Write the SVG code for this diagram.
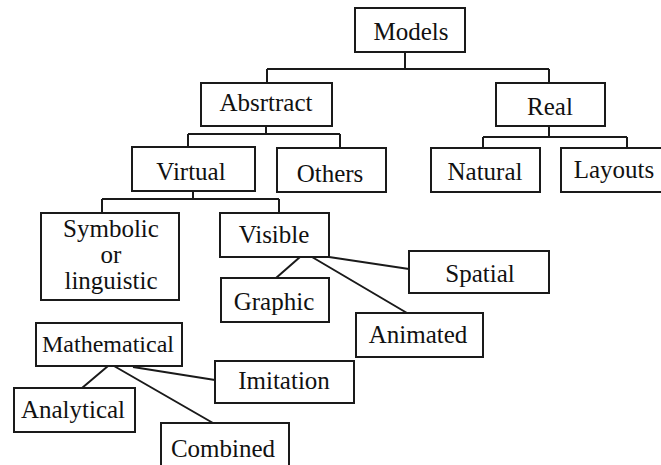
<svg xmlns="http://www.w3.org/2000/svg" width="661" height="465" viewBox="0 0 661 465">
<style>
.box{fill:#fff;stroke:#1a1a1a;stroke-width:2}
.t{font-family:'Liberation Serif','DejaVu Serif',serif;font-size:25px;fill:#111;text-anchor:middle}
.c{stroke:#1a1a1a;stroke-width:2;fill:none}
</style>
<rect width="661" height="465" fill="#fff"/>
<g id="connectors" class="c">
<path d="M405,52V69M267,69H549M267,69V83M549,69V83"/>
<path d="M266,126V134M188,134H340M188,134V147M340,134V148"/>
<path d="M549,126V137M483,137H627M483,137V148M627,137V148"/>
<path d="M193,191V199M102,199H279M102,199V213M279,199V213"/>
<path d="M300,257L276,278M312,257L407,313M329,257L409,269"/>
<path d="M108,366L82,388M114,366L213,423M133,367L215,380"/>
</g>
<g id="models"><rect class="box" x="355" y="8" width="110" height="44"/><text class="t" x="411" y="40">Models</text></g>
<g id="abstract"><rect class="box" x="201" y="83" width="131" height="43"/><text class="t" x="266" y="111">Absrtract</text></g>
<g id="real"><rect class="box" x="496" y="83" width="109" height="43"/><text class="t" x="550" y="115">Real</text></g>
<g id="virtual"><rect class="box" x="132" y="147" width="123" height="44"/><text class="t" x="191" y="180">Virtual</text></g>
<g id="others"><rect class="box" x="277" y="148" width="109" height="44"/><text class="t" x="330" y="182">Others</text></g>
<g id="natural"><rect class="box" x="431" y="148" width="109" height="44"/><text class="t" x="485" y="180">Natural</text></g>
<g id="layouts"><rect class="box" x="561" y="148" width="110" height="44"/><text class="t" x="614" y="178">Layouts</text></g>
<g id="symbolic"><rect class="box" x="41" y="213" width="138" height="87"/><text class="t" x="111" y="237">Symbolic</text><text class="t" x="111" y="263">or</text><text class="t" x="111" y="289">linguistic</text></g>
<g id="visible"><rect class="box" x="220" y="213" width="109" height="44"/><text class="t" x="274" y="243">Visible</text></g>
<g id="graphic"><rect class="box" x="221" y="278" width="108" height="44"/><text class="t" x="274" y="310">Graphic</text></g>
<g id="spatial"><rect class="box" x="409" y="251" width="140" height="42"/><text class="t" x="480" y="282">Spatial</text></g>
<g id="animated"><rect class="box" x="356" y="313" width="127" height="44"/><text class="t" x="418" y="343">Animated</text></g>
<g id="mathematical"><rect class="box" x="36" y="323" width="146" height="43"/><text class="t" x="108" y="352" style="font-size:24px">Mathematical</text></g>
<g id="imitation"><rect class="box" x="215" y="361" width="139" height="42"/><text class="t" x="284" y="389">Imitation</text></g>
<g id="analytical"><rect class="box" x="14" y="388" width="121" height="44"/><text class="t" x="73" y="418">Analytical</text></g>
<g id="combined"><rect class="box" x="161" y="423" width="128" height="50"/><text class="t" x="223" y="457">Combined</text></g>
</svg>
